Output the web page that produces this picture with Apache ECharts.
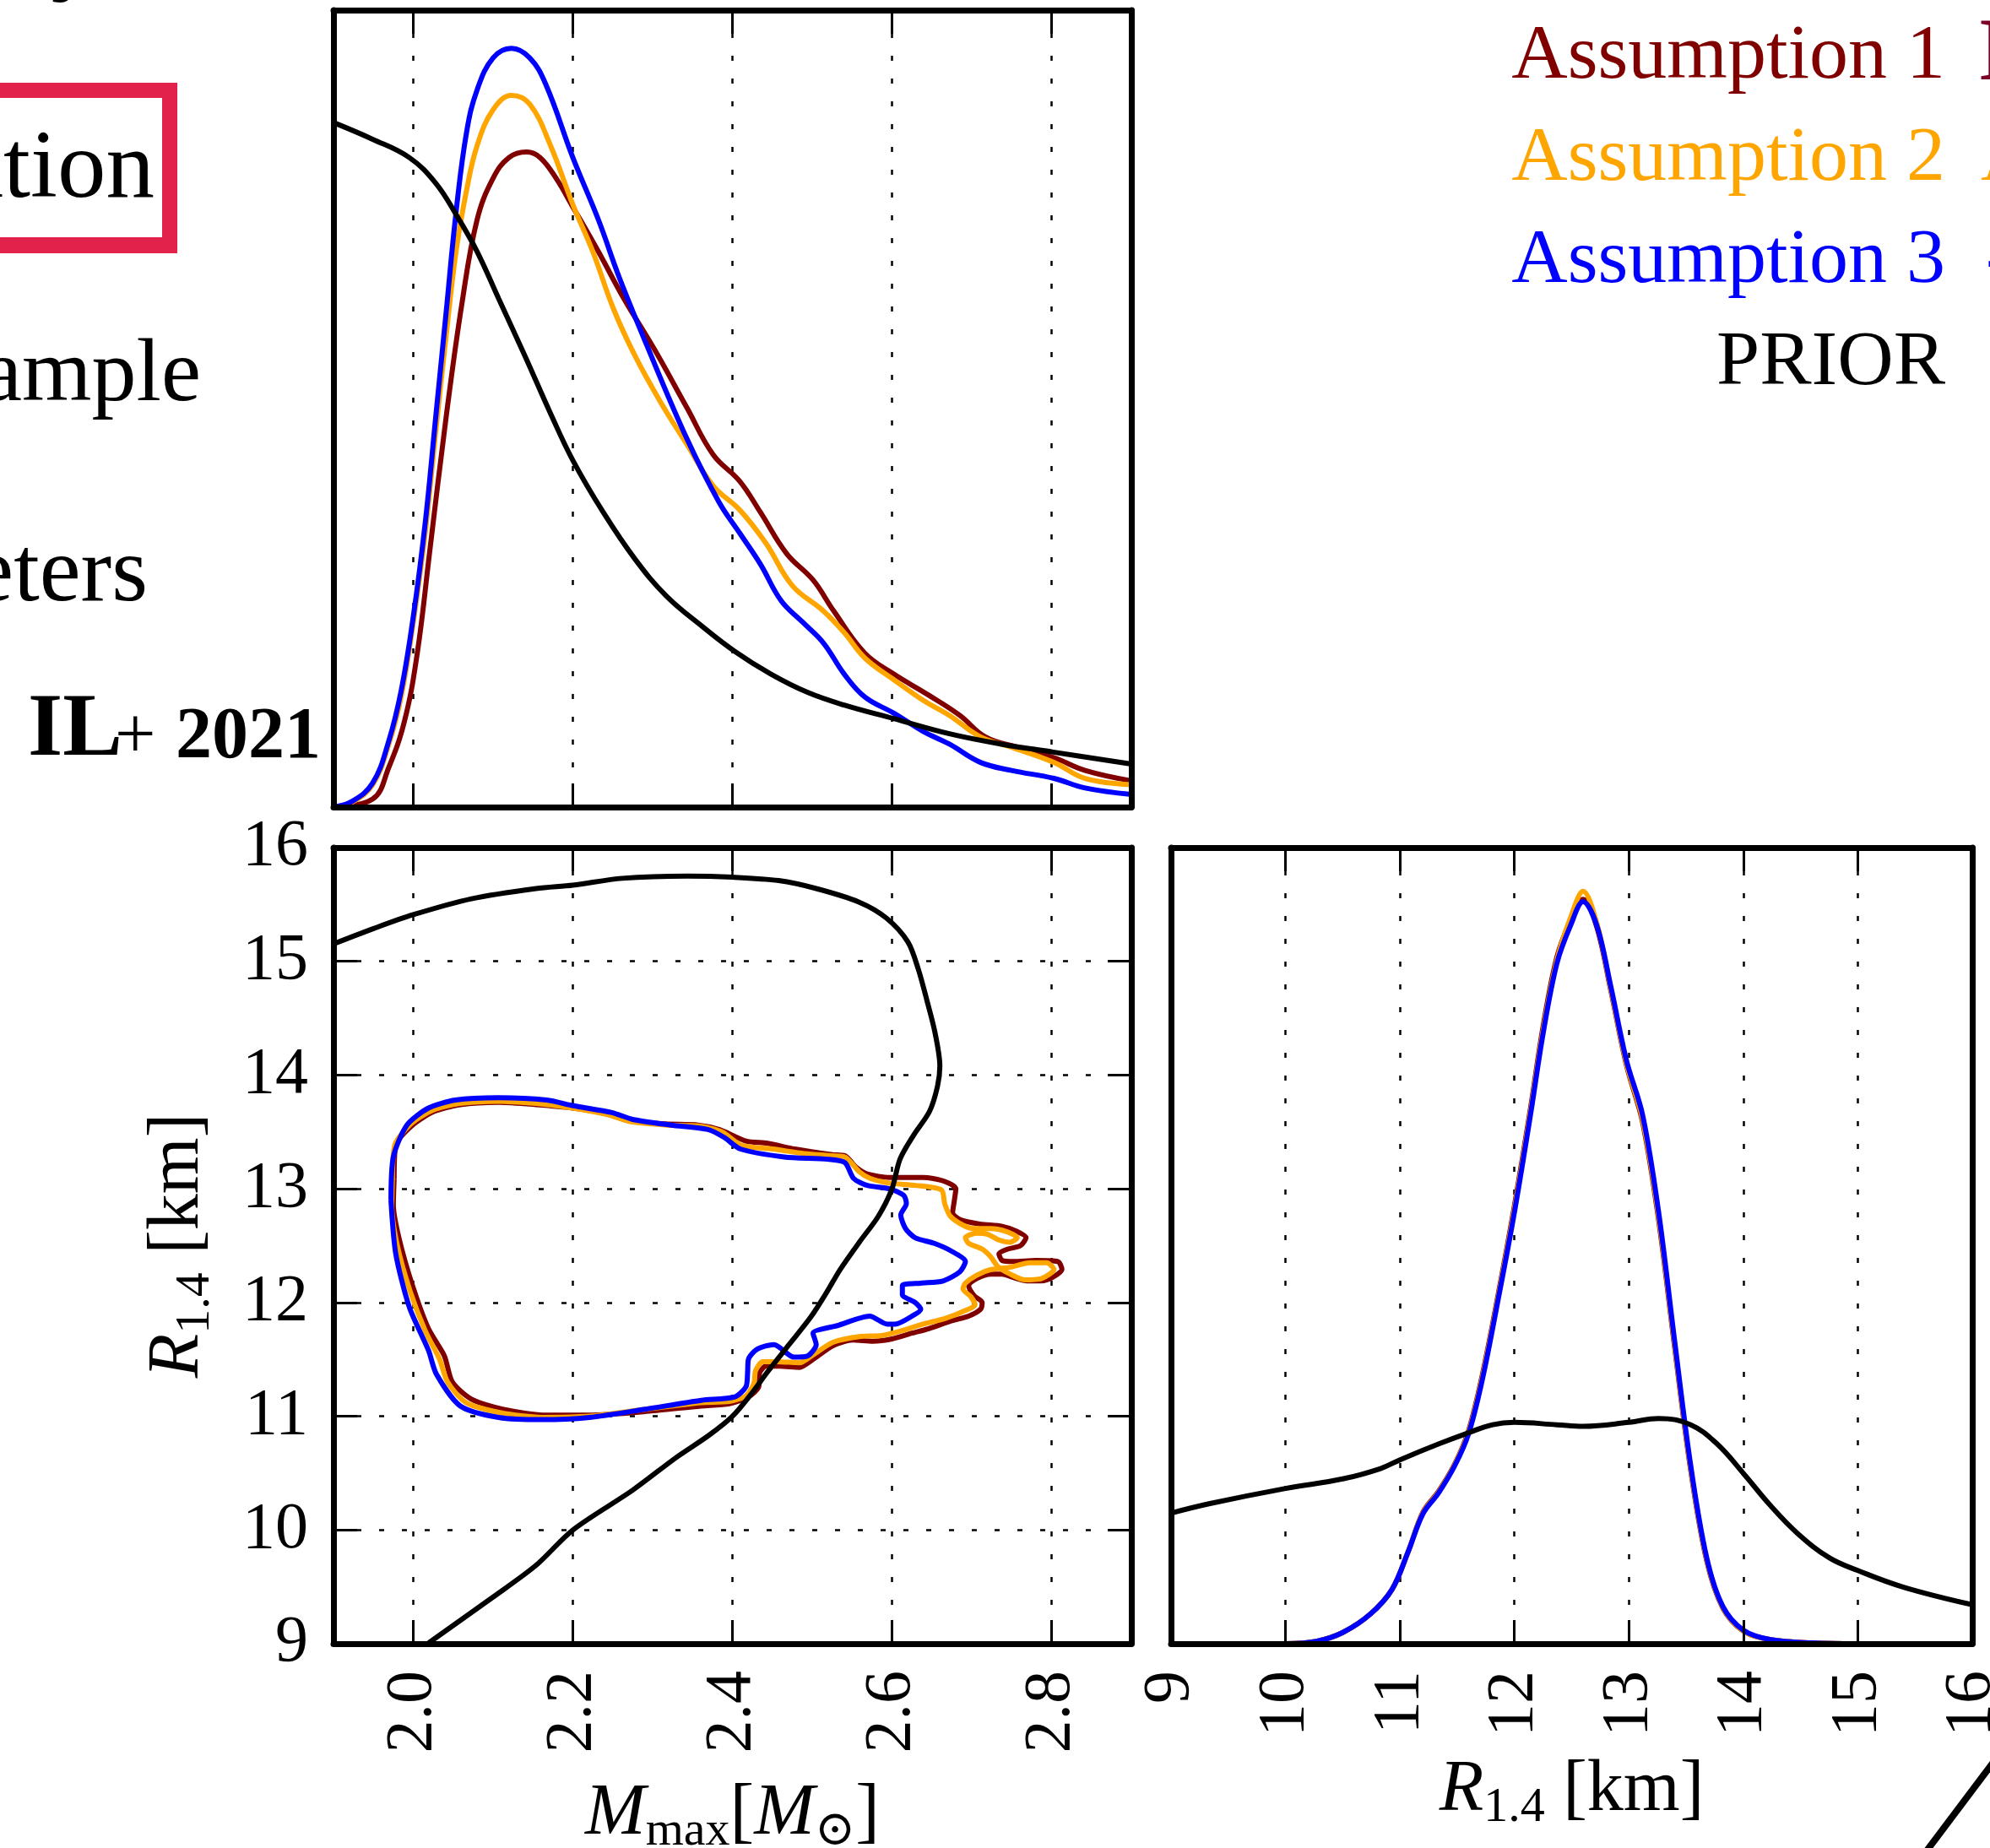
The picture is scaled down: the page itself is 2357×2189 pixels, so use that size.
<!DOCTYPE html>
<html>
<head>
<meta charset="utf-8">
<title>M_max / R_1.4 corner plot</title>
<script src="https://cdn.jsdelivr.net/npm/echarts/dist/echarts.min.js"></script>
<style>
  html, body { margin: 0; padding: 0; background: #fff; }
  #main { width: 2357px; height: 2189px; }
</style>
</head>
<body>
<div id="main"></div>
<script>
// ---------- values ----------
var mmaxTicks = [2.0, 2.2, 2.4, 2.6, 2.8];

// top panel: M_max marginals (height as fraction of the panel)
var mTopA1X = [1.9, 1.949, 1.969, 1.989, 2.005, 2.021, 2.041, 2.061, 2.08, 2.1, 2.12, 2.142, 2.159, 2.179, 2.2, 2.232, 2.264, 2.303, 2.343, 2.376, 2.409, 2.435, 2.468, 2.501, 2.527, 2.566, 2.602, 2.645, 2.685, 2.717, 2.757, 2.803, 2.842, 2.9];
var mTopA1Y = [0, 0.01, 0.049, 0.108, 0.193, 0.324, 0.488, 0.632, 0.737, 0.789, 0.815, 0.822, 0.815, 0.789, 0.753, 0.697, 0.638, 0.573, 0.501, 0.442, 0.409, 0.37, 0.318, 0.285, 0.246, 0.193, 0.167, 0.141, 0.115, 0.088, 0.075, 0.062, 0.046, 0.033];

var mTopA2X = [1.9, 1.923, 1.949, 1.969, 1.985, 2.0, 2.015, 2.028, 2.041, 2.054, 2.067, 2.08, 2.1, 2.123, 2.146, 2.172, 2.2, 2.225, 2.251, 2.278, 2.31, 2.343, 2.376, 2.409, 2.442, 2.475, 2.514, 2.54, 2.566, 2.602, 2.639, 2.672, 2.711, 2.75, 2.803, 2.842, 2.9];
var mTopA2Y = [0, 0.006, 0.028, 0.078, 0.14, 0.232, 0.345, 0.47, 0.59, 0.7, 0.775, 0.83, 0.875, 0.893, 0.882, 0.83, 0.756, 0.697, 0.625, 0.566, 0.508, 0.455, 0.403, 0.373, 0.331, 0.278, 0.246, 0.219, 0.187, 0.16, 0.134, 0.115, 0.088, 0.075, 0.056, 0.036, 0.028];

var mTopA3X = [1.9, 1.923, 1.949, 1.969, 1.985, 2.0, 2.015, 2.028, 2.041, 2.054, 2.067, 2.08, 2.1, 2.123, 2.146, 2.166, 2.2, 2.232, 2.258, 2.29, 2.343, 2.383, 2.409, 2.435, 2.461, 2.488, 2.514, 2.54, 2.566, 2.602, 2.639, 2.672, 2.711, 2.75, 2.803, 2.842, 2.9];
var mTopA3Y = [0, 0.007, 0.03, 0.082, 0.147, 0.239, 0.357, 0.488, 0.619, 0.75, 0.848, 0.9, 0.94, 0.952, 0.94, 0.907, 0.815, 0.737, 0.665, 0.586, 0.462, 0.383, 0.344, 0.305, 0.259, 0.232, 0.206, 0.167, 0.138, 0.118, 0.095, 0.079, 0.056, 0.046, 0.036, 0.024, 0.016];

var mTopPriorX = [1.9, 1.949, 1.995, 2.028, 2.054, 2.08, 2.107, 2.14, 2.172, 2.2, 2.238, 2.278, 2.317, 2.363, 2.402, 2.448, 2.494, 2.54, 2.602, 2.672, 2.737, 2.802, 2.9];
var mTopPriorY = [0.859, 0.838, 0.815, 0.783, 0.743, 0.697, 0.638, 0.566, 0.494, 0.435, 0.37, 0.311, 0.265, 0.226, 0.196, 0.167, 0.144, 0.128, 0.111, 0.092, 0.079, 0.069, 0.054];

// right panel: R_1.4 marginals
var rPostX = [10.0, 10.27, 10.5, 10.74, 10.93, 11.07, 11.2, 11.34, 11.48, 11.6, 11.72, 11.86, 12.0, 12.14, 12.25, 12.37, 12.49, 12.6, 12.72, 12.84, 12.98, 13.12, 13.26, 13.4, 13.54, 13.68, 13.82, 14.0, 14.24, 14.6, 15.0, 16.0];
var rPostA1 = [0, 0.003, 0.014, 0.037, 0.068, 0.115, 0.165, 0.192, 0.226, 0.268, 0.338, 0.44, 0.55, 0.672, 0.775, 0.862, 0.908, 0.935, 0.9, 0.822, 0.726, 0.655, 0.532, 0.372, 0.218, 0.104, 0.045, 0.016, 0.005, 0.001, 0, 0];
var rPostA2 = [0, 0.003, 0.014, 0.037, 0.068, 0.115, 0.164, 0.191, 0.225, 0.266, 0.335, 0.437, 0.546, 0.668, 0.77, 0.858, 0.912, 0.945, 0.905, 0.824, 0.728, 0.658, 0.536, 0.375, 0.22, 0.106, 0.046, 0.016, 0.005, 0.001, 0, 0];
var rPostA3 = [0, 0.003, 0.014, 0.037, 0.068, 0.115, 0.163, 0.19, 0.224, 0.264, 0.332, 0.434, 0.542, 0.664, 0.766, 0.854, 0.902, 0.932, 0.902, 0.827, 0.732, 0.664, 0.542, 0.38, 0.224, 0.108, 0.047, 0.017, 0.005, 0.001, 0, 0];

var rPriorX = [9.0, 9.34, 10.0, 10.5, 10.83, 11.0, 11.34, 11.58, 11.81, 12.0, 12.37, 12.6, 13.0, 13.26, 13.54, 13.77, 14.0, 14.24, 14.47, 14.75, 15.0, 15.4, 16.0];
var rPriorY = [0.164, 0.176, 0.195, 0.207, 0.22, 0.231, 0.251, 0.264, 0.275, 0.278, 0.275, 0.273, 0.278, 0.283, 0.275, 0.251, 0.214, 0.173, 0.139, 0.108, 0.092, 0.071, 0.049];

// bottom-left panel: contours [M_max, R_1.4]
var contourA1 = [[1.976,13.09],[1.978,13.38],[1.999,13.56],[2.026,13.68],[2.059,13.74],[2.107,13.76],[2.154,13.74],[2.2,13.71],[2.242,13.66],[2.269,13.6],[2.316,13.57],[2.357,13.56],[2.384,13.52],[2.417,13.42],[2.444,13.4],[2.478,13.35],[2.525,13.3],[2.541,13.29],[2.555,13.19],[2.569,13.13],[2.597,13.1],[2.639,13.1],[2.664,13.07],[2.68,13.0],[2.678,12.89],[2.676,12.79],[2.685,12.73],[2.71,12.69],[2.738,12.67],[2.755,12.63],[2.768,12.57],[2.761,12.5],[2.745,12.47],[2.734,12.43],[2.738,12.37],[2.752,12.36],[2.78,12.37],[2.808,12.36],[2.813,12.29],[2.801,12.22],[2.787,12.19],[2.769,12.19],[2.752,12.22],[2.738,12.25],[2.724,12.25],[2.706,12.21],[2.696,12.15],[2.703,12.06],[2.713,12.0],[2.711,11.94],[2.696,11.88],[2.675,11.84],[2.646,11.77],[2.625,11.73],[2.6,11.68],[2.576,11.66],[2.551,11.67],[2.526,11.62],[2.501,11.5],[2.484,11.43],[2.459,11.44],[2.442,11.44],[2.434,11.38],[2.433,11.26],[2.42,11.17],[2.396,11.11],[2.361,11.09],[2.289,11.04],[2.221,11.01],[2.167,11.01],[2.113,11.06],[2.073,11.15],[2.049,11.3],[2.039,11.53],[2.019,11.77],[1.999,12.15],[1.982,12.57],[1.975,12.86],[1.976,13.09]];
var contourA2 = [[1.974,13.1],[1.977,13.39],[1.997,13.57],[2.024,13.69],[2.058,13.75],[2.107,13.77],[2.154,13.75],[2.2,13.71],[2.245,13.65],[2.272,13.59],[2.318,13.56],[2.36,13.55],[2.387,13.5],[2.412,13.38],[2.45,13.35],[2.49,13.31],[2.525,13.29],[2.541,13.28],[2.559,13.15],[2.573,13.09],[2.597,13.05],[2.629,13.03],[2.662,12.99],[2.666,12.87],[2.673,12.76],[2.689,12.68],[2.703,12.65],[2.724,12.65],[2.745,12.62],[2.757,12.57],[2.748,12.53],[2.734,12.55],[2.72,12.6],[2.706,12.61],[2.692,12.57],[2.696,12.52],[2.713,12.47],[2.724,12.4],[2.732,12.32],[2.748,12.25],[2.766,12.2],[2.787,12.21],[2.803,12.29],[2.794,12.35],[2.773,12.35],[2.748,12.31],[2.724,12.29],[2.706,12.24],[2.692,12.17],[2.689,12.12],[2.699,12.05],[2.704,11.98],[2.692,11.93],[2.667,11.86],[2.639,11.81],[2.611,11.75],[2.587,11.71],[2.559,11.7],[2.526,11.65],[2.501,11.54],[2.484,11.47],[2.456,11.48],[2.438,11.48],[2.429,11.4],[2.427,11.29],[2.417,11.18],[2.396,11.13],[2.361,11.12],[2.289,11.06],[2.221,11.0],[2.161,10.99],[2.11,11.03],[2.066,11.12],[2.043,11.3],[2.033,11.5],[2.015,11.75],[1.996,12.1],[1.98,12.5],[1.973,12.85],[1.974,13.1]];
var contourA3 = [[1.972,12.9],[1.975,13.28],[1.992,13.56],[2.019,13.71],[2.053,13.78],[2.107,13.8],[2.167,13.78],[2.201,13.73],[2.249,13.67],[2.275,13.61],[2.323,13.56],[2.37,13.52],[2.39,13.45],[2.41,13.35],[2.465,13.28],[2.519,13.26],[2.541,13.23],[2.552,13.09],[2.569,13.03],[2.597,13.0],[2.615,12.94],[2.618,12.87],[2.611,12.77],[2.617,12.65],[2.629,12.57],[2.653,12.52],[2.675,12.45],[2.692,12.36],[2.685,12.27],[2.664,12.19],[2.636,12.17],[2.613,12.15],[2.613,12.07],[2.629,12.0],[2.636,11.94],[2.625,11.88],[2.604,11.81],[2.594,11.81],[2.572,11.88],[2.533,11.8],[2.501,11.73],[2.505,11.63],[2.494,11.53],[2.477,11.52],[2.452,11.63],[2.431,11.59],[2.42,11.5],[2.419,11.38],[2.417,11.26],[2.403,11.17],[2.361,11.14],[2.289,11.06],[2.221,10.99],[2.161,10.97],[2.107,10.99],[2.059,11.09],[2.029,11.37],[2.019,11.58],[1.995,11.96],[1.978,12.43],[1.972,12.9]];
var contourPrior = [[1.899,15.15],[1.951,15.29],[2.0,15.41],[2.073,15.55],[2.154,15.64],[2.2,15.67],[2.262,15.73],[2.343,15.75],[2.4,15.74],[2.458,15.71],[2.505,15.64],[2.559,15.52],[2.593,15.38],[2.62,15.17],[2.633,14.93],[2.644,14.65],[2.654,14.37],[2.66,14.08],[2.657,13.9],[2.647,13.68],[2.627,13.47],[2.61,13.26],[2.6,13.0],[2.583,12.76],[2.559,12.53],[2.535,12.29],[2.519,12.1],[2.498,11.87],[2.471,11.63],[2.444,11.39],[2.424,11.2],[2.4,11.0],[2.37,10.83],[2.33,10.64],[2.275,10.35],[2.2,10.0],[2.154,9.69],[2.1,9.41],[2.022,9.02],[2.015,8.98]];

// ---------- styling ----------
var FONT = '"Liberation Serif", "DejaVu Serif", serif';
var C1 = '#800000', C2 = '#FFA500', C3 = '#0000FF', CP = '#000000';

function zip(xs, ys) {
  var out = [];
  for (var i = 0; i < xs.length; i++) out.push([xs[i], ys[i]]);
  return out;
}

var dotted = { show: true, lineStyle: { color: '#000', width: 2.5, type: [6, 21] } };

// frame axes drawn above the curves (thick box + inward ticks)
function frameAxis(grid, min, max, pos, ticks, interval) {
  return {
    gridIndex: grid, type: 'value', min: min, max: max, interval: interval, position: pos, z: 10,
    axisLine: { show: true, onZero: false, lineStyle: { color: '#000', width: 7 } },
    axisTick: { show: !!(ticks || interval), inside: true, length: 28, lineStyle: { color: '#000', width: 3 }, customValues: ticks },
    axisLabel: { show: false },
    splitLine: { show: false }
  };
}

var nameRich = {
  i: { fontFamily: FONT, fontStyle: 'italic', fontSize: 86, lineHeight: 100, color: '#000' },
  n: { fontFamily: FONT, fontSize: 86, lineHeight: 100, color: '#000' },
  s: { fontFamily: FONT, fontSize: 58, lineHeight: 50, verticalAlign: 'bottom', color: '#000' }
};

var tickFont = { fontFamily: FONT, fontSize: 78, color: '#000' };

var xAxes = [
  // grid 0 (top)
  { gridIndex: 0, type: 'value', min: 1.9, max: 2.9, position: 'bottom',
    axisLine: { show: false, onZero: false }, axisTick: { show: false, customValues: mmaxTicks },
    axisLabel: { show: false }, splitLine: dotted },
  frameAxis(0, 1.9, 2.9, 'bottom', mmaxTicks),
  frameAxis(0, 1.9, 2.9, 'top', mmaxTicks),
  // grid 1 (bottom left)
  { gridIndex: 1, type: 'value', min: 1.9, max: 2.9, position: 'bottom',
    axisLine: { show: false, onZero: false }, axisTick: { show: false, customValues: mmaxTicks },
    axisLabel: Object.assign({ show: true, customValues: mmaxTicks, rotate: 90, margin: 32,
      formatter: function (v) { return v.toFixed(1); } }, tickFont),
    splitLine: dotted,
    name: '{i|M}{s|max}{n|[}{i|M}{s|\u2299}{n|]}', nameLocation: 'middle', nameGap: 152,
    nameTextStyle: { rich: nameRich } },
  frameAxis(1, 1.9, 2.9, 'bottom', mmaxTicks),
  frameAxis(1, 1.9, 2.9, 'top', mmaxTicks),
  // grid 2 (bottom right)
  { gridIndex: 2, type: 'value', min: 9, max: 16, interval: 1, position: 'bottom',
    axisLine: { show: false, onZero: false }, axisTick: { show: false },
    axisLabel: Object.assign({ show: true, rotate: 90, margin: 32, showMinLabel: true, showMaxLabel: true }, tickFont),
    splitLine: dotted,
    name: '{i|R}{s|1.4}{n| [km]}', nameLocation: 'middle', nameGap: 124,
    nameTextStyle: { rich: nameRich } },
  frameAxis(2, 9, 16, 'bottom', null, 1),
  frameAxis(2, 9, 16, 'top', null, 1)
];

var yAxes = [
  // grid 0
  { gridIndex: 0, type: 'value', min: 0, max: 1, position: 'left',
    axisLine: { show: false, onZero: false }, axisTick: { show: false }, axisLabel: { show: false }, splitLine: { show: false } },
  frameAxis(0, 0, 1, 'left', null, null),
  frameAxis(0, 0, 1, 'right', null, null),
  // grid 1
  { gridIndex: 1, type: 'value', min: 9, max: 16, interval: 1, position: 'left',
    axisLine: { show: false, onZero: false }, axisTick: { show: false },
    axisLabel: Object.assign({ show: true, margin: 30, showMinLabel: true, showMaxLabel: true }, tickFont),
    splitLine: dotted,
    name: '{i|R}{s|1.4}{n| [km]}', nameLocation: 'middle', nameGap: 134,
    nameTextStyle: { rich: nameRich } },
  frameAxis(1, 9, 16, 'left', null, 1),
  frameAxis(1, 9, 16, 'right', null, 1),
  // grid 2
  { gridIndex: 2, type: 'value', min: 0, max: 1, position: 'left',
    axisLine: { show: false, onZero: false }, axisTick: { show: false }, axisLabel: { show: false }, splitLine: { show: false } },
  frameAxis(2, 0, 1, 'left', null, null),
  frameAxis(2, 0, 1, 'right', null, null)
];

function curve(name, data, color, xi, yi, smooth) {
  return {
    name: name, type: 'line', xAxisIndex: xi, yAxisIndex: yi, data: data,
    showSymbol: false, smooth: smooth, clip: true,
    lineStyle: { color: color, width: 6 }, itemStyle: { color: color }
  };
}

var series = [
  curve('Assumption 1', zip(mTopA1X, mTopA1Y), C1, 0, 0, 0.4),
  curve('Assumption 2', zip(mTopA2X, mTopA2Y), C2, 0, 0, 0.4),
  curve('Assumption 3', zip(mTopA3X, mTopA3Y), C3, 0, 0, 0.4),
  curve('PRIOR', zip(mTopPriorX, mTopPriorY), CP, 0, 0, 0.4),

  curve('Assumption 1', contourA1, C1, 3, 3, 0.25),
  curve('Assumption 2', contourA2, C2, 3, 3, 0.25),
  curve('Assumption 3', contourA3, C3, 3, 3, 0.25),
  curve('PRIOR', contourPrior, CP, 3, 3, 0.3),

  curve('Assumption 1', zip(rPostX, rPostA1), C1, 6, 6, 0.35),
  curve('Assumption 2', zip(rPostX, rPostA2), C2, 6, 6, 0.35),
  curve('Assumption 3', zip(rPostX, rPostA3), C3, 6, 6, 0.35),
  curve('PRIOR', zip(rPriorX, rPriorY), CP, 6, 6, 0.4)
];

// cropped slide text around the figure
function txt(text, x, y, opt) {
  var s = Object.assign({ text: text, fill: '#000', fontFamily: FONT, fontSize: 90,
    align: 'left', verticalAlign: 'middle' }, opt);
  s.textAlign = s.align; s.textVerticalAlign = s.verticalAlign;
  return { type: 'text', x: x, y: y, z: 100, style: s };
}

var graphics = [
  { type: 'rect', z: 99, shape: { x: -20, y: 98, width: 230, height: 202 }, style: { fill: '#E2224A' } },
  { type: 'rect', z: 99, shape: { x: -20, y: 116, width: 212, height: 165 }, style: { fill: '#fff' } },
  txt('y', 60, -51, { fontSize: 115, fontWeight: 'bold' }),
  txt('ation', 183, 203, { fontSize: 115, align: 'right' }),
  txt('ample', 238, 446, { fontSize: 106, align: 'right' }),
  txt('eters', 175, 682, { fontSize: 110, align: 'right' }),
  txt('IL', 33, 867, { fontSize: 106, fontWeight: 'bold' }),
  txt('+', 136, 875, { fontSize: 86 }),
  txt('2021', 208, 875, { fontSize: 86, fontWeight: 'bold' }),

  txt('Assumption 1', 2304, 68, { fill: C1, align: 'right', fontSize: 92 }),
  txt('Assumption 2', 2304, 189, { fill: C2, align: 'right', fontSize: 92 }),
  txt('Assumption 3', 2304, 310, { fill: C3, align: 'right', fontSize: 92 }),
  txt('PRIOR', 2304, 431, { fill: CP, align: 'right', fontSize: 92 }),
  txt('I', 2343, 67, { fill: '#7A0026', fontSize: 105, fontWeight: 'bold' }),
  txt('A', 2346, 189, { fill: C2, fontSize: 92 }),
  txt('-', 2352, 310, { fill: C3, fontSize: 92 }),

  { type: 'line', z: 100, shape: { x1: 2280, y1: 2195, x2: 2362, y2: 2086 }, style: { stroke: '#000', lineWidth: 8 } }
];

var chart = echarts.init(document.getElementById('main'));
chart.setOption({
  backgroundColor: '#fff',
  animation: false,
  grid: [
    { left: 395, top: 12, width: 945, height: 944, outerBoundsMode: 'none', containLabel: false },
    { left: 395, top: 1004, width: 945, height: 943, outerBoundsMode: 'none', containLabel: false },
    { left: 1387, top: 1004, width: 949, height: 943, outerBoundsMode: 'none', containLabel: false }
  ],
  xAxis: xAxes,
  yAxis: yAxes,
  series: series,
  graphic: graphics
});
</script>
</body>
</html>
